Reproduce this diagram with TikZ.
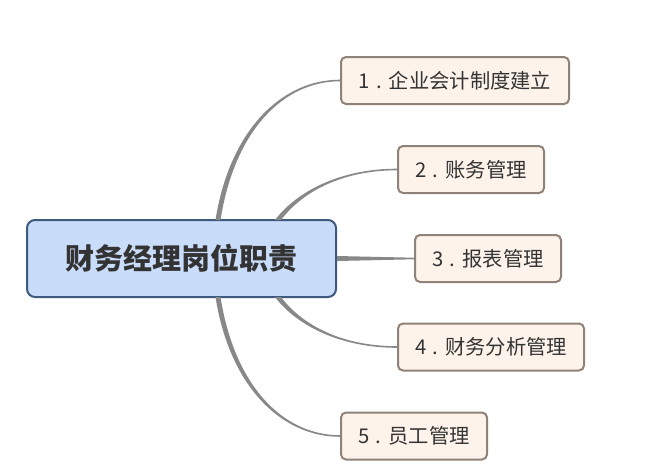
\documentclass[tikz,border=0pt]{standalone}
\usepackage{fontspec}
\setmainfont{Noto Sans CJK SC}
\usetikzlibrary{positioning,calc}

\definecolor{rootfill}{HTML}{C9DCFA}
\definecolor{rootline}{HTML}{3E5A7E}
\definecolor{leaffill}{HTML}{FDF3EA}
\definecolor{leafline}{HTML}{8F8278}
\definecolor{twiggray}{HTML}{888888}
\definecolor{inkgray}{HTML}{333333}

\begin{document}
\begin{tikzpicture}[x=1pt,y=-1pt,
	root/.style={rectangle,rounded corners=8pt,draw=rootline,fill=rootfill,line width=2pt,
		minimum width=309pt,minimum height=77pt,text=inkgray,font=\fontsize{29}{32}\selectfont\bfseries},
	leaf/.style={rectangle,rounded corners=5pt,draw=leafline,fill=leaffill,line width=2pt,
		minimum height=47pt,anchor=west,text=inkgray,font=\fontsize{20.3}{23}\selectfont},
	twig/.style={fill=twiggray}]
		
		\useasboundingbox (0,0) rectangle (671,471);
		
		%center node
		\node[root] (root) at (181.5,258.5) {财务经理岗位职责};
		
		%right nodes
		\node[leaf,minimum width=228pt] (c1) at (340,80.5) {1\hspace{0.3em}.\hspace{0.35em}企业会计制度建立};
		\node[leaf,minimum width=146pt] (c2) at (397,169.5) {2\hspace{0.3em}.\hspace{0.35em}账务管理};
		\node[leaf,minimum width=146pt] (c3) at (414,258.5) {3\hspace{0.3em}.\hspace{0.35em}报表管理};
		\node[leaf,minimum width=186pt] (c4) at (397,347) {4\hspace{0.3em}.\hspace{0.35em}财务分析管理};
		\node[leaf,minimum width=146pt] (c5) at (340,436) {5\hspace{0.3em}.\hspace{0.35em}员工管理};
		
		%branch roots
		\coordinate (s1) at ([xshift=192pt,yshift=-1pt]root.north west);
		\coordinate (s2) at ([xshift=252pt,yshift=-1pt]root.north west);
		\coordinate (s4) at ([xshift=252pt,yshift=1pt]root.south west);
		\coordinate (s5) at ([xshift=192pt,yshift=1pt]root.south west);
		
		%edges
		\fill[twig] ([xshift=-2.5pt]s1) .. controls +(14,-89) and +(-59,0) .. ([yshift=0.8pt]c1.west)
			-- ([yshift=-0.8pt]c1.west) .. controls +(-57,0) and +(14,-89) .. ([xshift=2.5pt]s1) -- cycle;
		\fill[twig] ([xshift=-3pt]s2) .. controls +(22,-29) and +(-56,0) .. ([yshift=0.8pt]c2.west)
			-- ([yshift=-0.8pt]c2.west) .. controls +(-54,0) and +(22,-29) .. ([xshift=3pt]s2) -- cycle;
		\fill[twig] ([yshift=2.5pt]root.east) -- ([yshift=0.8pt]c3.west)
			-- ([yshift=-0.8pt]c3.west) -- ([yshift=-2.5pt]root.east) -- cycle;
		\fill[twig] ([xshift=-3pt]s4) .. controls +(22,29) and +(-56,0) .. ([yshift=-0.8pt]c4.west)
			-- ([yshift=0.8pt]c4.west) .. controls +(-54,0) and +(22,29) .. ([xshift=3pt]s4) -- cycle;
		\fill[twig] ([xshift=-2.5pt]s5) .. controls +(14,89) and +(-59,0) .. ([yshift=-0.8pt]c5.west)
			-- ([yshift=0.8pt]c5.west) .. controls +(-57,0) and +(14,89) .. ([xshift=2.5pt]s5) -- cycle;

		\end{tikzpicture}
\end{document}
